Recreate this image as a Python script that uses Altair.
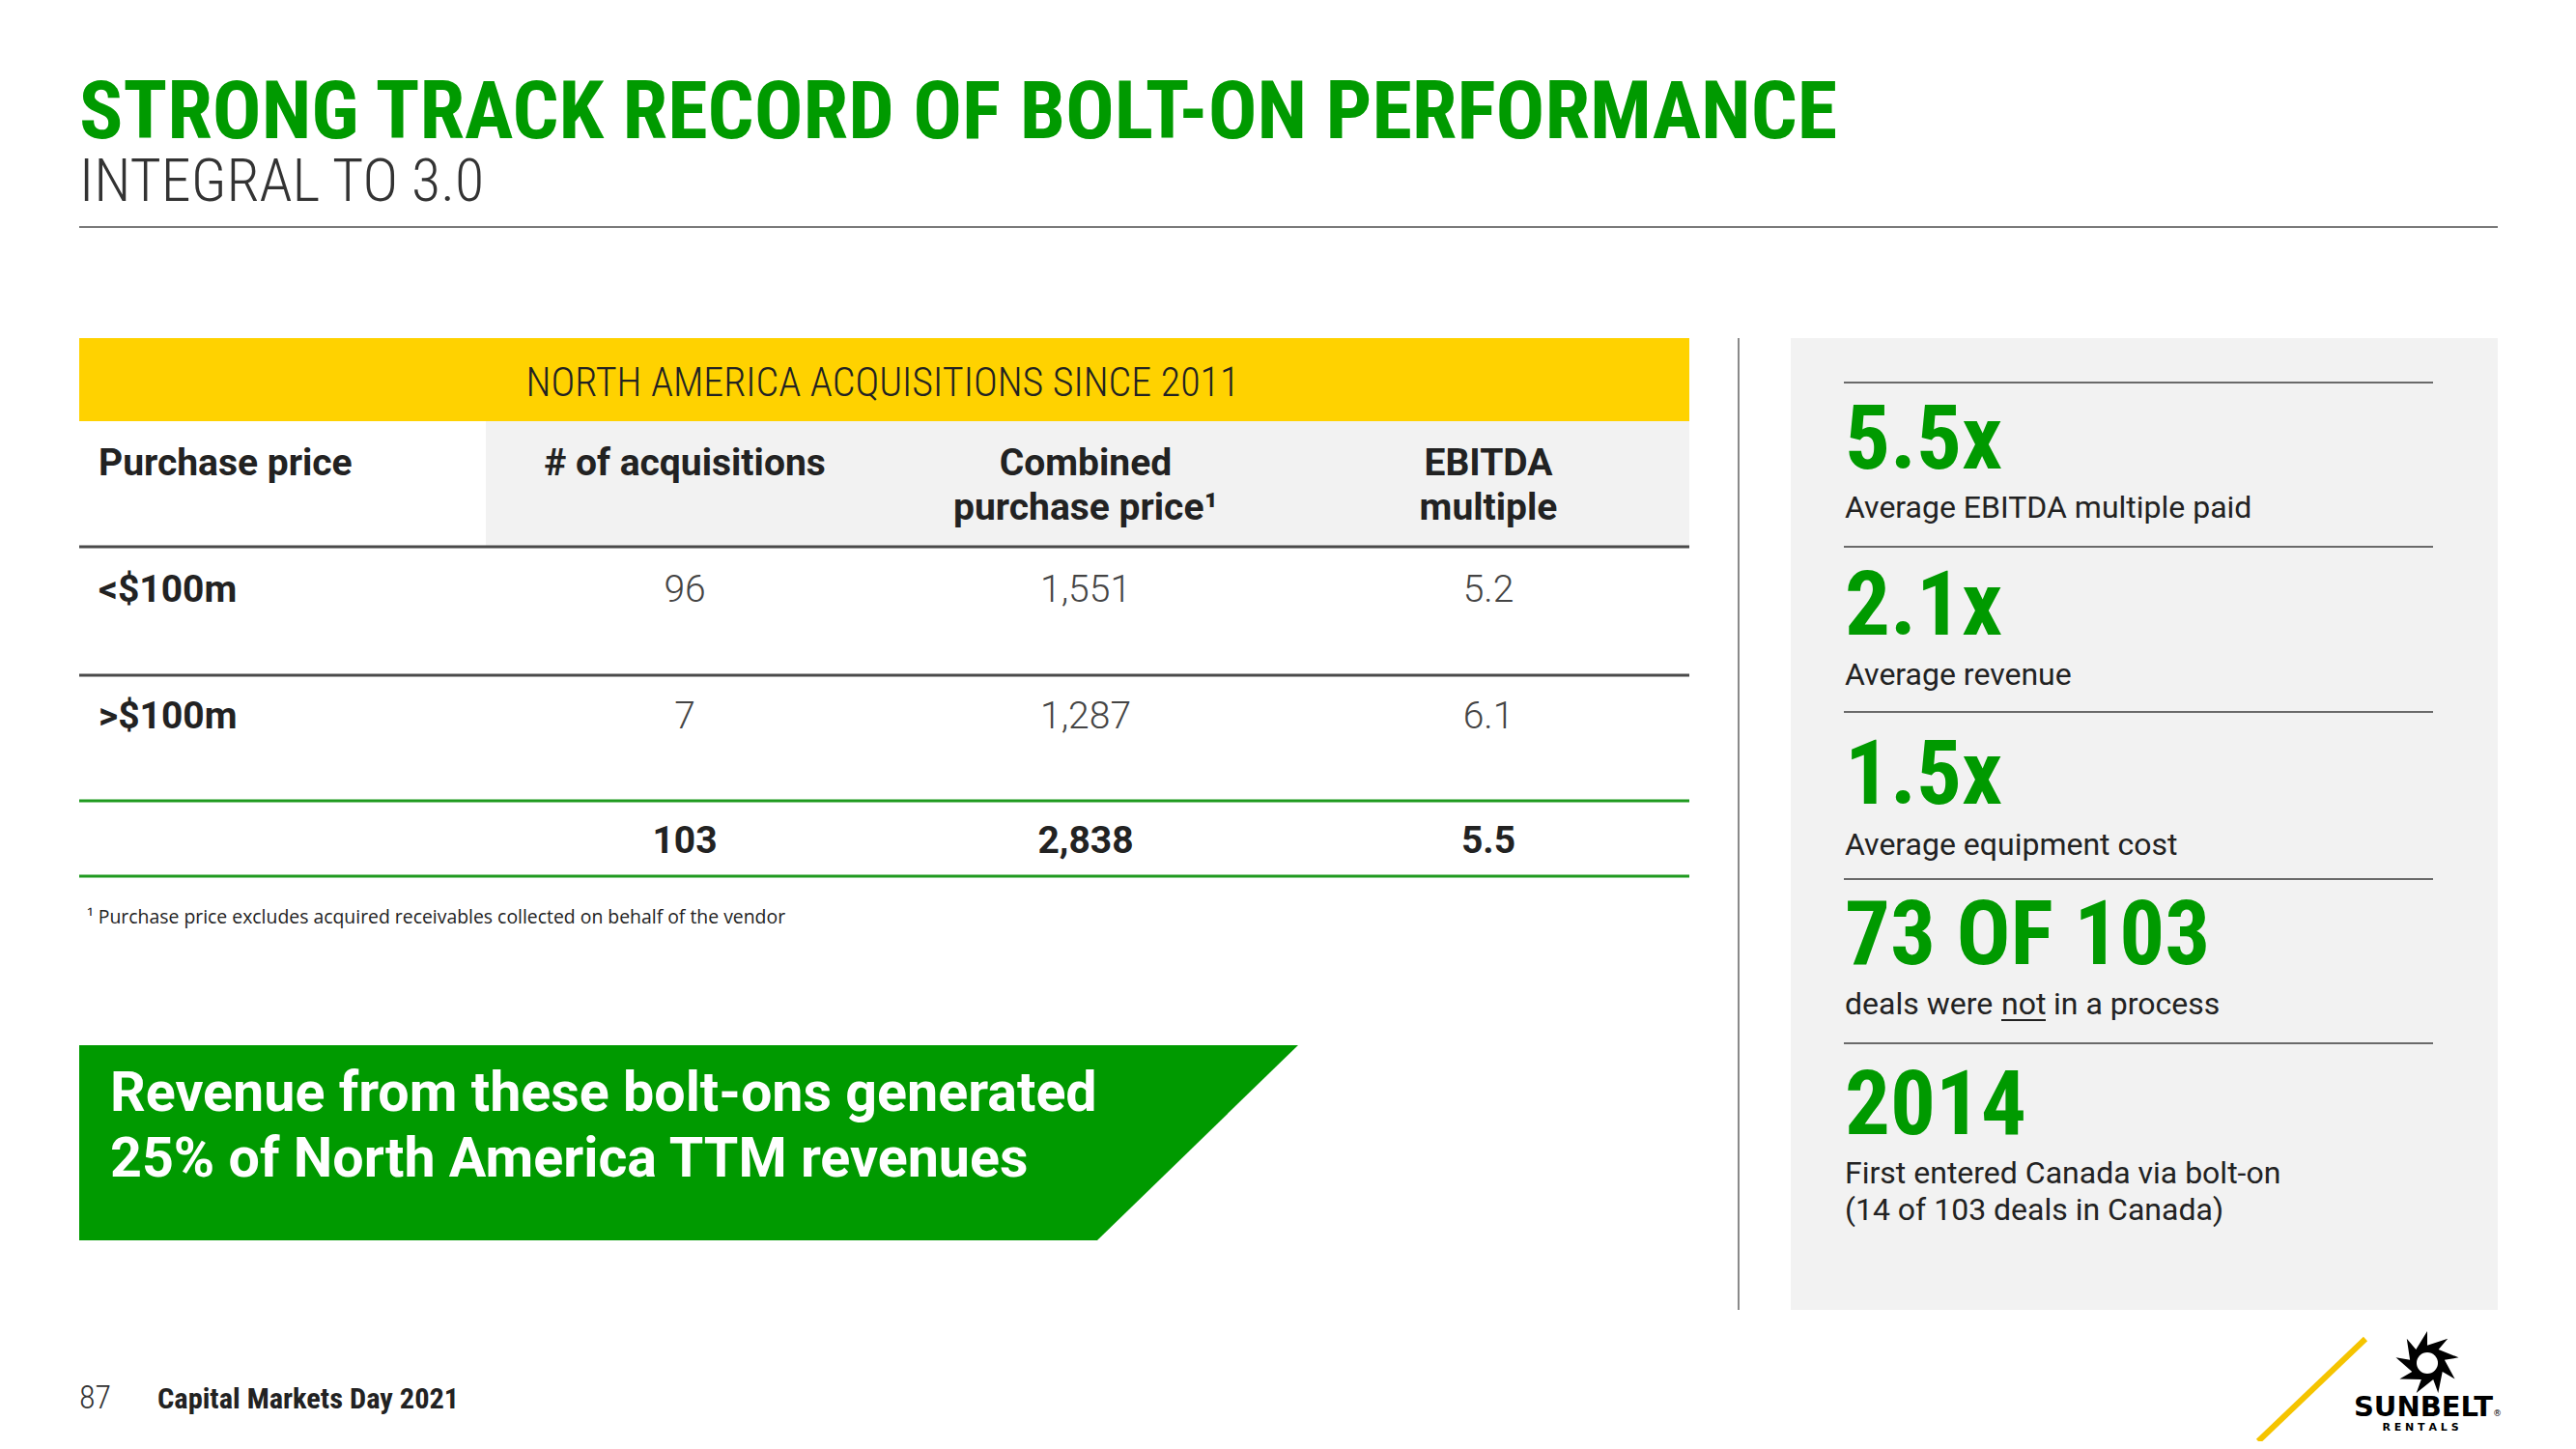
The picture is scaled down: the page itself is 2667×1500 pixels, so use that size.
import math
import altair as alt
import pandas as pd

# ---------------- data ----------------
title = "STRONG TRACK RECORD OF BOLT-ON PERFORMANCE"
subtitle = "INTEGRAL TO 3.0"
table_title = "NORTH AMERICA ACQUISITIONS SINCE 2011"
col_headers = [["Purchase price"], ["# of acquisitions"], ["Combined", "purchase price\u00b9"], ["EBITDA", "multiple"]]
purchase_bands = ["<$100m", ">$100m"]
num_acquisitions = [96, 7]
combined_price = [1551, 1287]
ebitda_multiple = [5.2, 6.1]
total_acquisitions = 103
total_price = 2838
total_multiple = 5.5
footnote = "\u00b9 Purchase price excludes acquired receivables collected on behalf of the vendor"
banner_lines = ["Revenue from these bolt-ons generated", "25% of North America TTM revenues"]
stat_values = ["5.5x", "2.1x", "1.5x", "73 OF 103", "2014"]
stat_labels = [["Average EBITDA multiple paid"], ["Average revenue"], ["Average equipment cost"],
               ["deals were", "not", "in a process"],
               ["First entered Canada via bolt-on", "(14 of 103 deals in Canada)"]]
page_number = "87"
footer = "Capital Markets Day 2021"

# ---------------- layout helpers ----------------
W, H = 2651, 1484
xs = alt.Scale(domain=[8, 8 + W], nice=False, zero=False)
ys = alt.Scale(domain=[8, 8 + H], nice=False, zero=False, reverse=True)
GREEN = "#009a00"
YELLOW = "#ffd200"
LIGHT = "#f2f2f2"
DARK = "#222222"
COND = "Roboto Condensed, Liberation Sans Narrow, DejaVu Sans Condensed, Roboto, sans-serif"
REG = "Roboto, Liberation Sans, sans-serif"


def X():
    return alt.X("x:Q", scale=xs, axis=None)


def Y():
    return alt.Y("y:Q", scale=ys, axis=None)


def texts(rows, **mk):
    df = pd.DataFrame(rows, columns=["t", "x", "y"])
    mk.setdefault("baseline", "alphabetic")
    mk.setdefault("font", COND)
    mk.setdefault("align", "left")
    return alt.Chart(df).mark_text(**mk).encode(x=X(), y=Y(), text="t:N")


def shape_point(cx, cy, size, path, color):
    df = pd.DataFrame(dict(x=[cx], y=[cy]))
    return alt.Chart(df).mark_point(shape=path, filled=True, color=color, size=size,
                                    opacity=1, strokeWidth=0).encode(x=X(), y=Y())


# rectangles
rects = pd.DataFrame([
    dict(x=82, x2=1749, y=350, y2=436, fill=YELLOW),
    dict(x=503, x2=1749, y=436, y2=566, fill=LIGHT),
    dict(x=1854, x2=2586, y=350, y2=1356, fill=LIGHT),
])
rect_layer = alt.Chart(rects).mark_rect().encode(
    x=X(), x2="x2:Q", y=Y(), y2="y2:Q", color=alt.Color("fill:N", scale=None))

# green banner (trapezoid, drawn as a custom symbol)
bx0, bx1, bxs, by0, by1 = 82, 1344, 1136, 1082, 1284
bcx, bcy = (bx0 + bx1) / 2, (by0 + by1) / 2
half = (bx1 - bx0) / 2
u = (bxs - bcx) / half
v = (by1 - by0) / 2 / half
banner_path = f"M-1,{-v:.5f} L1,{-v:.5f} L{u:.5f},{v:.5f} L-1,{v:.5f} Z"
banner_layer = shape_point(bcx, bcy, (2 * half) ** 2, banner_path, GREEN)

# rules
rule_rows = [
    dict(x=82, x2=2586, y=235, y2=235, c="#7a7a7a", w=2),
    dict(x=82, x2=1749, y=566, y2=566, c="#4a4a4a", w=3),
    dict(x=82, x2=1749, y=699, y2=699, c="#4a4a4a", w=3),
    dict(x=82, x2=1749, y=829, y2=829, c="#1f9a1f", w=3),
    dict(x=82, x2=1749, y=907, y2=907, c="#1f9a1f", w=3),
    dict(x=1800, x2=1800, y=350, y2=1356, c="#8a8a8a", w=2),
    dict(x=2072, x2=2118, y=1056, y2=1056, c=DARK, w=2),
    dict(x=2338, x2=2449, y=1492, y2=1386, c="#f5c400", w=6),
]
for yy in [396, 566, 737, 910, 1080]:
    rule_rows.append(dict(x=1909, x2=2519, y=yy, y2=yy, c="#6a6a6a", w=2))
rules = pd.DataFrame(rule_rows)
rule_layer = alt.Chart(rules).mark_rule().encode(
    x=X(), x2="x2:Q", y=Y(), y2="y2:Q",
    color=alt.Color("c:N", scale=None), strokeWidth=alt.StrokeWidth("w:Q", scale=None))

layers = [rect_layer, banner_layer, rule_layer]

# title
layers.append(texts([(title, 82, 143)], fontSize=84.3, fontWeight="bold", color=GREEN))
layers.append(texts([(subtitle, 82, 208)], fontSize=62, fontWeight=300, color="#333333"))

# table
layers.append(texts([(table_title, 914, 410)], fontSize=42, fontWeight=300, color=DARK, align="center"))
col_x = [102, 709, 1124, 1541]
hdr_rows = []
for i, lines in enumerate(col_headers):
    for j, ln in enumerate(lines):
        hdr_rows.append((ln, col_x[i], 492 + 46 * j))
layers.append(texts(hdr_rows[:1], fontSize=39, fontWeight="bold", font=REG, color=DARK, align="left"))
layers.append(texts(hdr_rows[1:], fontSize=39, fontWeight="bold", font=REG, color=DARK, align="center"))

row_y = [623, 754]
layers.append(texts([(b, 102, yy) for b, yy in zip(purchase_bands, row_y)],
                    fontSize=39, fontWeight="bold", font=REG, color=DARK, align="left"))
val_rows = []
for k, yy in enumerate(row_y):
    val_rows.append((f"{num_acquisitions[k]}", col_x[1], yy))
    val_rows.append((f"{combined_price[k]:,}", col_x[2], yy))
    val_rows.append((f"{ebitda_multiple[k]:.1f}", col_x[3], yy))
layers.append(texts(val_rows, fontSize=39, fontWeight=300, font=REG, color="#444444", align="center"))
tot_rows = [(f"{total_acquisitions}", col_x[1], 883), (f"{total_price:,}", col_x[2], 883),
            (f"{total_multiple:.1f}", col_x[3], 883)]
layers.append(texts(tot_rows, fontSize=39, fontWeight="bold", font=REG, color=DARK, align="center"))
layers.append(texts([(footnote, 90, 956)], fontSize=19.4, font="Open Sans, sans-serif", color=DARK))

# banner text
layers.append(texts([(banner_lines[0], 114, 1150), (banner_lines[1], 114, 1218)],
                    fontSize=57.4, fontWeight="bold", font=REG, color="white"))

# right panel
big_y = [485, 657, 832, 998, 1174]
lab_y = [536, 709, 885, 1050, 1225]
layers.append(texts([(v_, 1910, yy) for v_, yy in zip(stat_values, big_y)],
                    fontSize=93, fontWeight="bold", color=GREEN))
lab_rows = [(stat_labels[0][0], 1910, lab_y[0]), (stat_labels[1][0], 1910, lab_y[1]),
            (stat_labels[2][0], 1910, lab_y[2]),
            (stat_labels[3][0], 1910, lab_y[3]), (stat_labels[3][1], 2072, lab_y[3]),
            (stat_labels[3][2], 2126, lab_y[3]),
            (stat_labels[4][0], 1910, lab_y[4]), (stat_labels[4][1], 1910, lab_y[4] + 38)]
layers.append(texts(lab_rows, fontSize=32, font=REG, color=DARK))

# footer
layers.append(texts([(page_number, 82, 1458)], fontSize=34, fontWeight=300, color="#333333"))
layers.append(texts([(footer, 163, 1458)], fontSize=30.4, fontWeight="bold", color=DARK))

# logo: saw blade
n = 9
pts = []
for k in range(n):
    a0 = 2 * math.pi * k / n - math.pi / 2
    pts.append((math.cos(a0), math.sin(a0)))
    pts.append((0.55 * math.cos(a0), 0.55 * math.sin(a0)))
blade = "M" + " L".join(f"{px:.3f},{py:.3f}" for px, py in pts) + " Z"
layers.append(shape_point(2513, 1411, 66 * 66, blade, "black"))
layers.append(shape_point(2513, 1411, 22 * 22, "circle", "white"))
layers.append(texts([("SUNBELT", 2509, 1466)], fontSize=29, fontWeight="bold",
                    font="DejaVu Sans, Liberation Sans, sans-serif", color="black", align="center"))
layers.append(texts([("\u00ae", 2581, 1466)], fontSize=9,
                    font="DejaVu Sans, Liberation Sans, sans-serif", color="black", align="left"))
layers.append(texts([("R E N T A L S", 2506, 1481)], fontSize=11, fontWeight="bold",
                    font="DejaVu Sans, Liberation Sans, sans-serif", color="black", align="center"))

chart = alt.layer(*layers).properties(
    width=W, height=H, padding=0, autosize="none", background="white"
).configure_view(stroke=None)

chart.save("out.html", embed_options={"renderer": "svg", "actions": False})
